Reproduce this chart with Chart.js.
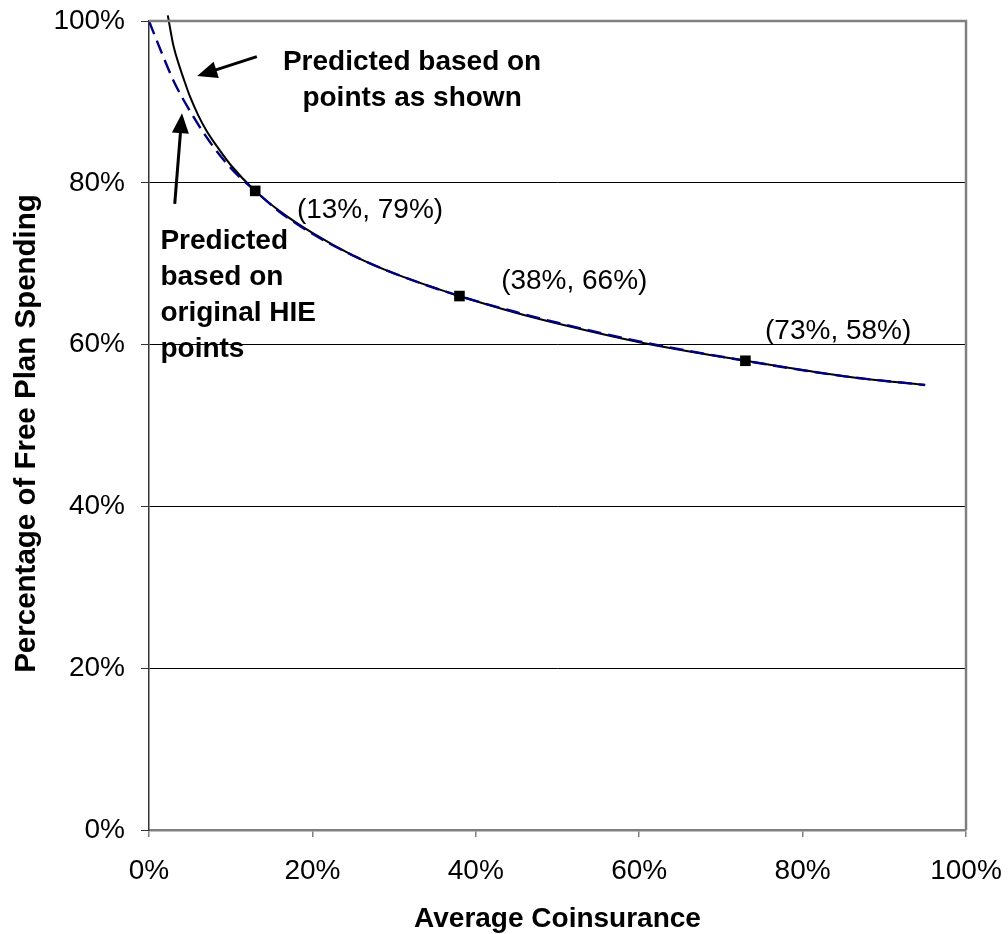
<!DOCTYPE html>
<html>
<head>
<meta charset="utf-8">
<script src="https://cdn.jsdelivr.net/npm/chart.js@4/dist/chart.umd.min.js"></script>
<style>
  html, body { margin: 0; padding: 0; background: #fff; }
  #wrap { width: 1008px; height: 934px; }
</style>
</head>
<body>
<div id="wrap"><canvas id="chart"></canvas></div>
<script>
// Courbe "points as shown" (trait plein)
const shownX = [2.3, 3, 3.76, 4.5, 5, 6, 7, 8.25, 10, 13, 16, 20, 25, 30, 38, 45, 50, 60, 73, 85, 95];
const shownY = [100.7, 96.9, 94.3, 92.1, 90.7, 88.4, 86.5, 84.6, 82.2, 79, 76.5, 73.8, 71.0, 68.8, 66, 63.9, 62.6, 60.3, 58, 56.1, 55];

// Courbe "original HIE points" (tirets)
const hieX = [0, 1.5, 3.1, 5, 7, 9, 11, 13, 16, 20, 25, 30, 38, 45, 50, 60, 73, 85, 95];
const hieY = [100, 96.2, 92.4, 88.9, 85.7, 83.0, 80.8, 79, 76.4, 73.7, 71.0, 68.8, 66, 64.0, 62.7, 60.4, 58, 56.1, 55];

// Points marqués
const markX = [13, 38, 73];
const markY = [79, 66, 58];
const markLabels = ['(13%, 79%)', '(38%, 66%)', '(73%, 58%)'];

const yTicks = [0, 20, 40, 60, 80, 100];
const yTitle = 'Percentage of Free Plan Spending';

const FONT = "'Liberation Sans', Arial, sans-serif";
Chart.defaults.font.family = FONT;
Chart.defaults.color = '#000';

// Textes et flèches (en coordonnées de données)
const labelPos = [[18.1, 75.7], [43.1, 66.9], [75.4, 60.7]];
const notes = [
    { lines: ['Predicted based on', 'points as shown'], x: 32.2, y: 94.0, align: 'center' },
    { lines: ['Predicted', 'based on', 'original HIE', 'points'], x: 1.4, y: 71.8, align: 'left' }
];
const arrows = [
    { from: [13.2, 95.6], to: [5.9, 93.2] },
    { from: [3.15, 77.4], to: [4.04, 88.6] }
];

const toXY = (points) => points[0].map((v, i) => ({ x: v, y: points[1][i] }));

const annotationPlugin = {
    id: 'annotations',
    afterDraw(chart) {
        const { ctx, chartArea, scales: { x, y } } = chart;
        ctx.save();

        // cadre haut / droite
        ctx.strokeStyle = '#808080';
        ctx.lineWidth = 2.5;
        ctx.beginPath();
        ctx.moveTo(chartArea.left, chartArea.top);
        ctx.lineTo(chartArea.right, chartArea.top);
        ctx.lineTo(chartArea.right, chartArea.bottom);
        ctx.stroke();

        // titre de l'axe Y (un peu sous le centre, comme l'original)
        ctx.save();
        ctx.translate(27, (chartArea.top + chartArea.bottom) / 2 + 8);
        ctx.rotate(-Math.PI / 2);
        ctx.font = `bold 29.5px ${FONT}`;
        ctx.fillStyle = '#000';
        ctx.textAlign = 'center';
        ctx.textBaseline = 'middle';
        ctx.fillText(yTitle, 0, 0);
        ctx.restore();

        // étiquettes des points
        ctx.fillStyle = '#000';
        ctx.textBaseline = 'alphabetic';
        ctx.font = `28px ${FONT}`;
        ctx.textAlign = 'left';
        markLabels.forEach((t, i) => {
            ctx.fillText(t, x.getPixelForValue(labelPos[i][0]), y.getPixelForValue(labelPos[i][1]));
        });

        // notes en gras
        ctx.font = `bold 28px ${FONT}`;
        notes.forEach(n => {
            ctx.textAlign = n.align;
            const px = x.getPixelForValue(n.x);
            const py = y.getPixelForValue(n.y);
            n.lines.forEach((line, k) => ctx.fillText(line, px, py + k * 36));
        });

        // flèches
        ctx.strokeStyle = '#000';
        ctx.lineWidth = 3;
        arrows.forEach(a => {
            const x0 = x.getPixelForValue(a.from[0]), y0 = y.getPixelForValue(a.from[1]);
            const x1 = x.getPixelForValue(a.to[0]), y1 = y.getPixelForValue(a.to[1]);
            const ang = Math.atan2(y1 - y0, x1 - x0);
            const len = 20, half = 8.5;
            const bx = x1 - len * Math.cos(ang), by = y1 - len * Math.sin(ang);
            ctx.beginPath();
            ctx.moveTo(x0, y0);
            ctx.lineTo(bx + 2 * Math.cos(ang), by + 2 * Math.sin(ang));
            ctx.stroke();
            ctx.beginPath();
            ctx.moveTo(x1, y1);
            ctx.lineTo(bx + half * Math.sin(ang), by - half * Math.cos(ang));
            ctx.lineTo(bx - half * Math.sin(ang), by + half * Math.cos(ang));
            ctx.closePath();
            ctx.fill();
        });
        ctx.restore();
    }
};

new Chart(document.getElementById('chart'), {
    type: 'scatter',
    data: {
        datasets: [
            {
                label: 'Points',
                data: toXY([markX, markY]),
                pointStyle: 'rect',
                pointRadius: 7.5,
                backgroundColor: '#000',
                borderColor: '#000',
                borderWidth: 0,
                showLine: false,
                order: 0
            },
            {
                label: 'Predicted based on original HIE points',
                data: toXY([hieX, hieY]),
                showLine: true,
                borderColor: '#000080',
                borderWidth: 2.4,
                borderDash: [14, 7],
                pointRadius: 0,
                cubicInterpolationMode: 'monotone',
                order: 1
            },
            {
                label: 'Predicted based on points as shown',
                data: toXY([shownX, shownY]),
                showLine: true,
                borderColor: '#000',
                borderWidth: 2,
                pointRadius: 0,
                cubicInterpolationMode: 'monotone',
                clip: false,
                order: 2
            }
        ]
    },
    options: {
        responsive: true,
        maintainAspectRatio: false,
        animation: false,
        layout: { padding: { top: 21, right: 42, left: 0, bottom: 0 } },
        plugins: {
            legend: { display: false },
            tooltip: { enabled: false }
        },
        scales: {
            x: {
                type: 'linear',
                min: 0,
                max: 100,
                afterFit: (s) => { s.height = 104; s.paddingLeft = 0; s.paddingRight = 0; },
                ticks: {
                    stepSize: 20,
                    font: { size: 28 },
                    padding: 17,
                    callback: (v) => v + '%'
                },
                grid: { drawOnChartArea: false, drawTicks: true, tickLength: 7, color: '#808080', lineWidth: 1.5 },
                border: { color: '#808080', width: 2.5 },
                title: {
                    display: true,
                    text: 'Average Coinsurance',
                    font: { size: 28, weight: 'bold' },
                    padding: { top: 0, bottom: -2 }
                }
            },
            y: {
                min: 0,
                max: 100,
                afterFit: (s) => { s.width = 149; s.paddingTop = 0; s.paddingBottom = 0; },
                afterBuildTicks: (s) => { s.ticks = yTicks.map(v => ({ value: v })); },
                ticks: {
                    font: { size: 28 },
                    padding: 16,
                    callback: (v) => v + '%'
                },
                grid: {
                    color: (c) => (c.tick && (c.tick.value === 0 || c.tick.value === 100)) ? 'rgba(0,0,0,0)' : '#000',
                    tickColor: '#333',
                    tickLength: 8,
                    lineWidth: 1
                },
                border: { color: '#333', width: 1.5 },
                title: { display: false }
            }
        }
    },
    plugins: [annotationPlugin]
});
</script>
</body>
</html>
